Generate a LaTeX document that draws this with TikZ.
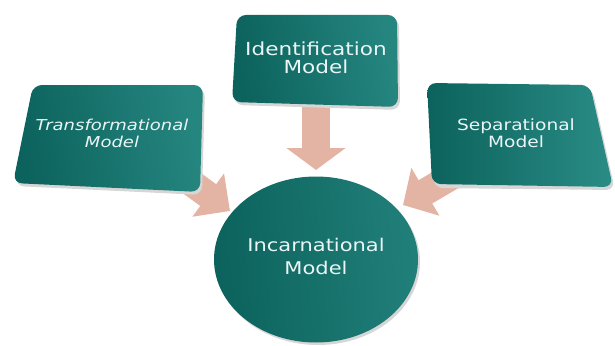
\documentclass[tikz,border=0pt]{standalone}
\usepackage{fontspec}
\usepackage{tikz}
\newfontfamily\modelfont[FakeStretch=1.2]{DejaVu Sans}
\definecolor{teal800}{HTML}{0C625C}
\definecolor{teal600}{HTML}{2A8C86}
\definecolor{rosa300}{HTML}{E3B4A4}
\usetikzlibrary{arrows.meta,shapes.geometric}
\tikzstyle{caixa}=[rounded corners=9pt, left color=teal800, middle color=teal800!85!teal600, right color=teal600!85!teal800, shading angle=100]
\tikzstyle{sombra}=[rounded corners=9pt, fill=black!16]
\tikzstyle{texto}=[text=white!92!teal, align=center, inner sep=0pt]
\tikzstyle{seta}=[draw=rosa300, line width=27pt]

\begin{document}
\begin{tikzpicture}[x=1pt, y=-1pt]
			\useasboundingbox (0,0) rectangle (615,345);
			% pontas das setas
			\coordinate (tl) at (178,173);
			\coordinate (tm) at (316,100);
			\coordinate (tr) at (466,168);
			\coordinate (pl) at (230,211);
			\coordinate (pm) at (316,170);
			\coordinate (pr) at (403,205);
			\draw[seta, -{Triangle[width=52pt, length=27pt]}] (tl) -- (pl);
			\draw[seta, line width=28pt, -{Triangle[width=58pt, length=22pt]}] (tm) -- (pm);
			\draw[seta, -{Triangle[width=54pt, length=26pt]}] (tr) -- (pr);
			% caixas
			\path[sombra] (35,88) -- (205,88) -- (202,195) -- (15,186) -- cycle;
			\path[caixa] (33,85) -- (203,85) -- (200,192) -- (13,183) -- cycle;
			\path[sombra] (239,18) -- (399,18) -- (400,110) -- (234,105) -- cycle;
			\path[caixa] (237,15) -- (397,15) -- (398,107) -- (232,102) -- cycle;
			\path[sombra] (429,86) -- (592,88) -- (615,190) -- (434,188) -- cycle;
			\path[caixa, middle color=teal800!70!teal600, right color=teal600] (427,83) -- (590,85) -- (613,187) -- (432,184) -- cycle;
			\node[texto, font=\modelfont\itshape\fontsize{15}{17}\selectfont] (transf) at (112,133) {Transformational\\Model};
			\node[texto, font=\modelfont\fontsize{18}{18}\selectfont] (ident) at (316,58) {Identification\\Model};
			\node[texto, font=\modelfont\fontsize{15.5}{17.5}\selectfont] (separ) at (516,133) {Separational\\Model};
			% elipse central
			\node[ellipse, fill=black!16, minimum width=204pt, minimum height=166pt] at (318,262) {};
			\node[ellipse, left color=teal800, middle color=teal800!90!teal600, right color=teal600!70!teal800, shading angle=95, minimum width=204pt, minimum height=166pt, inner sep=0pt] (incarn) at (316,259.5) {};
			\node[texto, font=\modelfont\fontsize{17.5}{23}\selectfont] (incarntxt) at (316,256) {Incarnational\\Model};
		\end{tikzpicture}
\end{document}
